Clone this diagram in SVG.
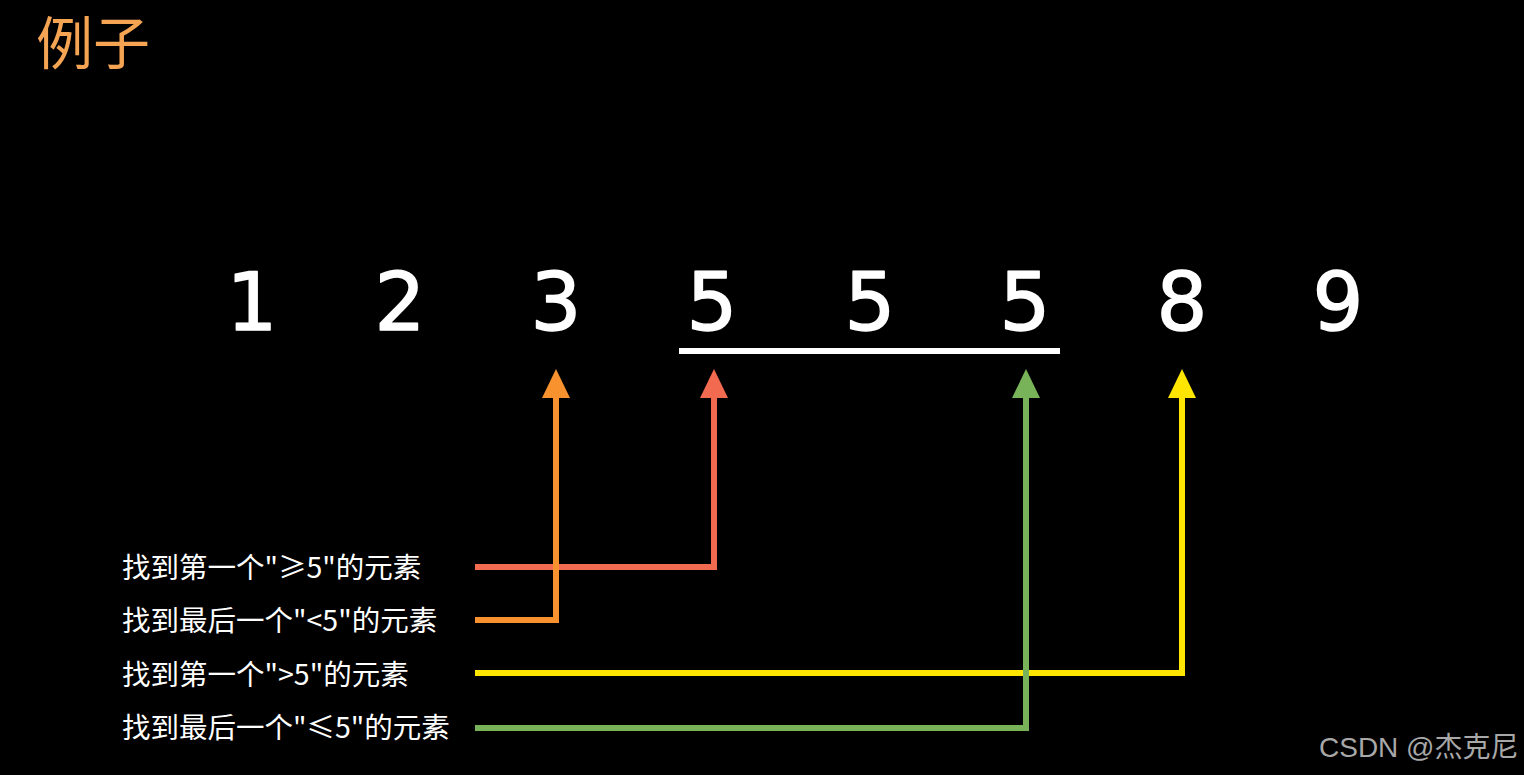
<svg xmlns="http://www.w3.org/2000/svg" width="1524" height="775" viewBox="0 0 1524 775">
<style>
.title{font-family:"Noto Sans CJK SC","Noto Sans",sans-serif;font-size:57px;fill:#F5A454}
.num{font-family:"DejaVu Sans","Liberation Sans",sans-serif;font-size:80px;fill:#fff;stroke:#fff;stroke-width:1.5;stroke-linejoin:round;text-anchor:middle}
.lbl{font-family:"Noto Sans CJK SC","Noto Sans",sans-serif;font-size:28.5px;fill:#fff;dominant-baseline:central}
.wm{font-family:"Liberation Sans","Noto Sans CJK SC",sans-serif;font-size:28px;fill:#A8A8A8}
.ln{fill:none;stroke-width:6;stroke-linejoin:miter;stroke-linecap:butt}
</style>
<rect width="1524" height="775" fill="#000"/>
<g id="title"><text class="title" x="36" y="64">例子</text></g>
<g id="numbers">
<text class="num" x="252" y="330">1</text>
<text class="num" x="400" y="330">2</text>
<text class="num" x="556" y="330">3</text>
<text class="num" x="712" y="330">5</text>
<text class="num" x="870" y="330">5</text>
<text class="num" x="1025" y="330">5</text>
<text class="num" x="1182" y="330">8</text>
<text class="num" x="1338" y="330">9</text>
</g>
<g id="underline"><rect x="679" y="348" width="381" height="6" fill="#fff"/></g>
<g id="labels">
<text class="lbl" x="122" y="565">找到第一个"≥5"的元素</text>
<text class="lbl" x="122" y="618">找到最后一个"&lt;5"的元素</text>
<text class="lbl" x="122" y="672">找到第一个"&gt;5"的元素</text>
<text class="lbl" x="122" y="725">找到最后一个"≤5"的元素</text>
</g>
<g id="connectors">
<path class="ln" stroke="#F26A4F" d="M475 567H714V396"/>
<polygon fill="#F26A4F" points="714,369 728,398 700,398"/>
<path class="ln" stroke="#FFE500" d="M475 673H1182V396"/>
<polygon fill="#FFE500" points="1182,369 1196,398 1168,398"/>
<path class="ln" stroke="#F7922E" d="M475 620H556V396"/>
<polygon fill="#F7922E" points="556,369 570,398 542,398"/>
<path class="ln" stroke="#79B359" d="M475 728H1026V396"/>
<polygon fill="#79B359" points="1026,369 1040,398 1012,398"/>
</g>
<g id="watermark"><text class="wm" x="1319" y="757">CSDN @杰克尼</text></g>
</svg>
